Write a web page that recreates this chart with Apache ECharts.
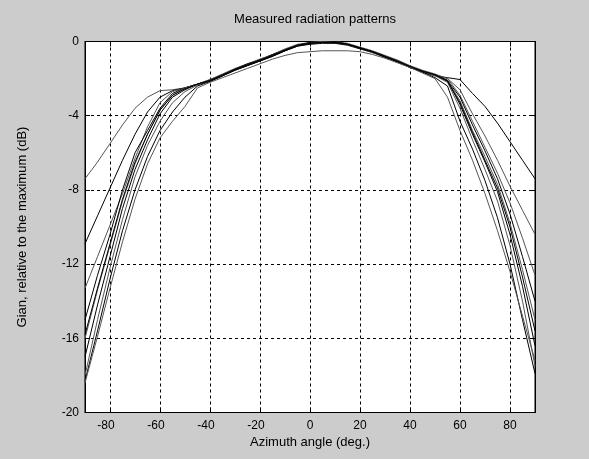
<!DOCTYPE html>
<html>
<head>
<meta charset="utf-8">
<script src="https://cdn.jsdelivr.net/npm/echarts@6/dist/echarts.min.js"></script>
<style>
html,body{margin:0;padding:0;background:#cccccc;}
#chart{width:589px;height:459px;}
</style>
</head>
<body>
<div id="chart"></div>
<script>
var angles = [-90,-85,-80,-75,-70,-65,-60,-55,-50,-45,-40,-35,-30,-25,-20,-15,-10,-5,0,5,10,15,20,25,30,35,40,45,50,55,60,65,70,75,80,85,90];

var curve1 = [-7.4,-6.5,-5.5,-4.5,-3.6,-3.0,-2.65,-2.6,-2.5,-2.3,
  -2.1,-1.8,-1.5,-1.25,-1.0,-0.75,-0.45,-0.2,-0.1,-0.05,-0.05,-0.15,-0.35,-0.55,-0.8,-1.05,-1.35,
  -1.6,-1.8,-2.0,-2.9,-4.3,-5.7,-7.1,-8.7,-10.6,-12.6];
var curve2 = [-10.9,-9.4,-7.9,-6.4,-5.0,-3.8,-3.0,-2.65,-2.5,-2.3,
  -2.15,-1.85,-1.55,-1.3,-1.05,-0.8,-0.5,-0.25,-0.15,-0.1,-0.1,-0.2,-0.4,-0.6,-0.85,-1.1,-1.4,
  -1.65,-1.85,-1.95,-2.05,-2.8,-3.5,-4.4,-5.4,-6.4,-7.4];
var curve3 = [-13.3,-11.6,-9.9,-8.2,-6.3,-4.6,-3.3,-2.7,-2.5,-2.3,
  -2.05,-1.75,-1.45,-1.2,-0.95,-0.7,-0.4,-0.15,-0.05,0,0,-0.1,-0.3,-0.5,-0.75,-1.0,-1.3,
  -1.55,-1.75,-2.0,-2.6,-3.9,-5.1,-6.4,-7.8,-9.1,-10.4];
var curve4 = [-15.0,-12.6,-10.4,-8.0,-6.0,-4.8,-3.6,-2.8,-2.5,-2.3,
  -2.1,-1.8,-1.5,-1.2,-1.0,-0.7,-0.45,-0.2,-0.05,-0.05,0,-0.15,-0.35,-0.55,-0.8,-1.05,-1.35,
  -1.6,-1.8,-2.1,-3.0,-4.5,-5.9,-7.4,-9.3,-11.6,-14.0];
var curve5 = [-16.0,-13.4,-11.0,-8.6,-6.6,-5.0,-3.7,-2.9,-2.5,-2.3,
  -2.05,-1.8,-1.5,-1.25,-0.95,-0.75,-0.45,-0.2,-0.1,-0.05,-0.05,-0.15,-0.35,-0.6,-0.8,-1.05,-1.35,
  -1.6,-1.8,-2.1,-3.2,-4.8,-6.2,-7.7,-9.8,-12.3,-15.0];
var curve6 = [-17.0,-14.2,-11.6,-9.0,-6.9,-5.3,-3.9,-3.0,-2.6,-2.3,
  -2.1,-1.85,-1.5,-1.25,-1.0,-0.75,-0.5,-0.2,-0.1,-0.05,-0.05,-0.15,-0.35,-0.55,-0.8,-1.1,-1.35,
  -1.6,-1.8,-2.1,-3.4,-5.0,-6.5,-8.1,-10.4,-13.2,-16.4];
var curve7 = [-18.0,-15.0,-12.2,-9.6,-7.3,-5.6,-4.3,-3.3,-2.7,-2.35,
  -2.1,-1.8,-1.5,-1.25,-1.0,-0.75,-0.45,-0.2,-0.1,-0.05,-0.05,-0.15,-0.35,-0.55,-0.8,-1.05,-1.35,
  -1.6,-1.85,-2.2,-3.6,-5.3,-6.9,-8.6,-11.0,-14.0,-17.5];
var curve8 = [-18.3,-15.6,-12.8,-10.2,-8.0,-6.2,-4.8,-3.8,-3.0,-2.4,
  -2.15,-1.85,-1.55,-1.3,-1.05,-0.8,-0.5,-0.25,-0.1,-0.05,-0.05,-0.15,-0.35,-0.55,-0.85,-1.1,-1.4,
  -1.65,-1.95,-2.4,-4.3,-5.8,-7.5,-9.5,-12.0,-15.0,-17.9];
var curve9 = [-18.4,-15.9,-13.3,-10.8,-8.5,-6.6,-5.2,-4.3,-3.5,-2.5,
  -2.2,-1.95,-1.7,-1.45,-1.2,-0.95,-0.75,-0.6,-0.55,-0.5,-0.5,-0.5,-0.55,-0.7,-0.9,-1.15,-1.4,
  -1.7,-2.0,-3.0,-4.8,-6.4,-8.2,-10.2,-12.4,-14.8,-17.2];
var curve10 = [-15.8,-13.3,-10.9,-8.5,-6.5,-5.0,-3.7,-2.9,-2.55,-2.3,
  -2.1,-1.8,-1.5,-1.25,-1.0,-0.75,-0.45,-0.2,-0.1,-0.05,-0.05,-0.15,-0.35,-0.55,-0.8,-1.05,-1.35,
  -1.6,-1.8,-2.15,-3.3,-4.9,-6.4,-7.9,-10.0,-12.7,-15.6];

var curves = [curve1,curve2,curve3,curve4,curve5,curve6,curve7,curve8,curve9,curve10];
var lineColors = ['#555555','#000000','#555555','#000000','#555555','#000000','#555555','#000000','#555555','#000000'];

var titleText = 'Measured radiation patterns';
var xName = 'Azimuth angle (deg.)';
var yName = 'Gian, relative to the maximum (dB)';

var FONT = '"Liberation Sans", Arial, sans-serif';

var chart = echarts.init(document.getElementById('chart'), null, {renderer:'canvas'});

var series = curves.map(function(c, i){
  return {
    type:'line',
    xAxisIndex:0, yAxisIndex:0,
    data: angles.map(function(a, j){ return [a, c[j]]; }),
    showSymbol:false,
    symbol:'none',
    lineStyle:{color:lineColors[i], width:1},
    silent:true,
    animation:false
  };
});

var option = {
  backgroundColor:'#cccccc',
  animation:false,
  title:{
    text:titleText, left:310, textAlign:'center', top:8,
    textStyle:{fontFamily:FONT, fontSize:13, fontWeight:'normal', color:'#000'}
  },
  grid:{left:85, top:41.5, width:450, height:371, show:true, backgroundColor:'#ffffff', borderColor:'#000', borderWidth:1},
  xAxis:[{
    type:'value', min:-90, max:90, splitNumber:9,
    name:xName, nameLocation:'middle', nameGap:22,
    nameTextStyle:{fontFamily:FONT, fontSize:13, color:'#000'},
    axisLine:{show:true, onZero:false, lineStyle:{color:'#000'}},
    axisTick:{show:true, inside:true, length:5, lineStyle:{color:'#000'}},
    axisLabel:{showMinLabel:false, showMaxLabel:false, margin:7, fontFamily:FONT, fontSize:12, color:'#000',
      formatter:function(v){ return v < 0 ? '{n|' + v + '}' : '{p|' + v + '}'; },
      rich:{n:{fontFamily:FONT, fontSize:12, color:'#000', padding:[0,8,0,0]}, p:{fontFamily:FONT, fontSize:12, color:'#000'}}
    },
    splitLine:{show:true, lineStyle:{color:'#000', type:[3,3], width:1}}
  },{
    type:'value', min:-90, max:90, splitNumber:9, position:'top',
    axisLine:{show:true, onZero:false, lineStyle:{color:'#000'}},
    axisTick:{show:true, inside:true, length:5, lineStyle:{color:'#000'}},
    axisLabel:{show:false}, splitLine:{show:false}
  }],
  yAxis:[{
    type:'value', min:-20, max:0, interval:4,
    name:yName, nameLocation:'middle', nameGap:56,
    nameTextStyle:{fontFamily:FONT, fontSize:13, color:'#000'},
    axisLine:{show:true, onZero:false, lineStyle:{color:'#000'}},
    axisTick:{show:true, inside:true, length:5, lineStyle:{color:'#000'}},
    axisLabel:{margin:6, fontFamily:FONT, fontSize:12, color:'#000'},
    splitLine:{show:true, lineStyle:{color:'#000', type:[3,3], width:1}}
  },{
    type:'value', min:-20, max:0, interval:4, position:'right',
    axisLine:{show:true, onZero:false, lineStyle:{color:'#000'}},
    axisTick:{show:true, inside:true, length:5, lineStyle:{color:'#000'}},
    axisLabel:{show:false}, splitLine:{show:false}
  }],
  series:series
};
chart.setOption(option);
</script>
</body>
</html>
